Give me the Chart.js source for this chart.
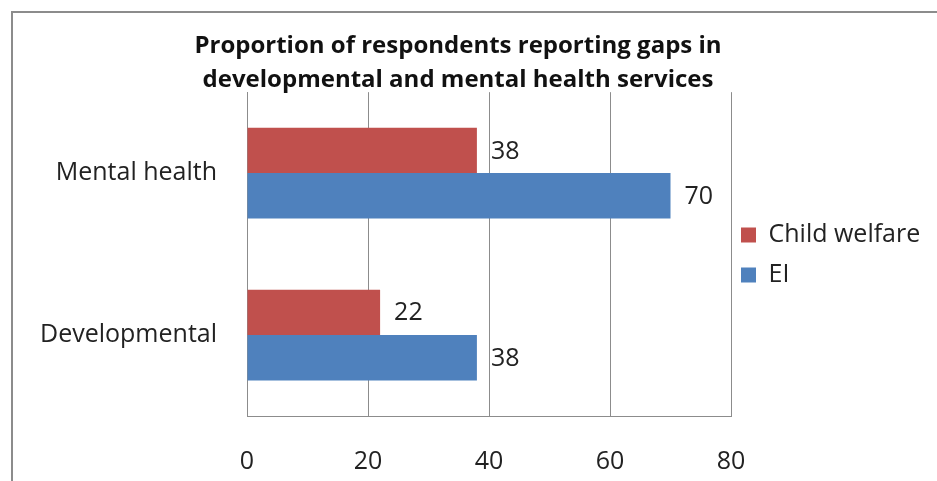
<!DOCTYPE html>
<html>
<head>
<meta charset="utf-8">
<script src="https://cdn.jsdelivr.net/npm/chart.js@4"></script>
<style>
  html, body { margin: 0; padding: 0; background: #fff; }
  #wrap { position: relative; width: 937px; height: 481px; overflow: hidden; }
  #frame {
    position: absolute; left: 11px; top: 11px; width: 1000px; height: 600px;
    border-left: 2px solid #8c8c8c; border-top: 2px solid #8c8c8c;
    pointer-events: none;
  }
</style>
</head>
<body>
<div id="wrap">
  <canvas id="gaps" width="937" height="481"></canvas>
  <div id="frame"></div>
</div>
<script>
const categories = ["Mental health", "Developmental"];
const childWelfare = [38, 22];
const earlyIntervention = [70, 38];
const xTicks = [0, 20, 40, 60, 80];

const FONT = "'Open Sans', sans-serif";
const LEGEND_WIDTH = 185;

// writes each bar's value just past its end
const valueLabels = {
  id: "valueLabels",
  afterDatasetsDraw(chart) {
    const ctx = chart.ctx;
    ctx.save();
    ctx.font = "25px " + FONT;
    ctx.fillStyle = "#222";
    ctx.textBaseline = "middle";
    ctx.textAlign = "left";
    chart.data.datasets.forEach((ds, i) => {
      chart.getDatasetMeta(i).data.forEach((bar, j) => {
        ctx.fillText(String(ds.data[j]), bar.x + 14, bar.y + 1);
      });
    });
    ctx.restore();
  },
};

// keeps the side legend at a fixed width so the plot edge stays put,
// then lets its text run out to the canvas edge
const fixedLegend = {
  id: "fixedLegend",
  beforeLayout(chart) {
    const lg = chart.legend;
    if (!lg || lg._fixedFit) return;
    const fit = lg.fit.bind(lg);
    lg.fit = function () {
      fit();
      this.width = LEGEND_WIDTH;
    };
    lg._fixedFit = true;
  },
  afterLayout(chart) {
    const lg = chart.legend;
    if (!lg) return;
    lg.left -= 5;
    lg.right = chart.width;
    lg.width = lg.right - lg.left;
  },
};

new Chart(document.getElementById("gaps"), {
  type: "bar",
  data: {
    labels: categories,
    datasets: [
      {
        label: "Child welfare",
        data: childWelfare,
        backgroundColor: "#C0504D",
        categoryPercentage: 0.56,
        barPercentage: 1,
      },
      {
        label: "EI",
        data: earlyIntervention,
        backgroundColor: "#4F81BD",
        categoryPercentage: 0.56,
        barPercentage: 1,
      },
    ],
  },
  options: {
    indexAxis: "y",
    responsive: false,
    animation: false,
    layout: { padding: { top: 29, right: 21, left: 0, bottom: 0 } },
    plugins: {
      title: {
        display: true,
        text: [
          "Proportion of respondents reporting gaps in",
          "developmental and mental health services",
        ],
        color: "#111",
        font: { family: FONT, size: 24, weight: "bold", lineHeight: 1.42 },
        padding: { top: 0, bottom: -5 },
      },
      legend: {
        position: "right",
        labels: {
          color: "#222",
          font: { family: FONT, size: 25 },
          boxWidth: 15,
          boxHeight: 15,
          padding: 15,
        },
      },
      tooltip: { enabled: false },
    },
    scales: {
      x: {
        min: 0,
        max: 80,
        afterBuildTicks(scale) {
          scale.ticks = xTicks.map((v) => ({ value: v }));
        },
        afterFit(scale) {
          scale.height = 65;
        },
        grid: { color: "#8c8c8c", drawTicks: false },
        border: { color: "#8c8c8c" },
        ticks: {
          color: "#222",
          padding: 31,
          font: { family: FONT, size: 25 },
        },
      },
      y: {
        afterFit(scale) {
          scale.width = 247;
        },
        grid: { display: false, drawTicks: false },
        border: { color: "#8c8c8c" },
        ticks: {
          color: "#222",
          padding: 30,
          font: { family: FONT, size: 25 },
        },
      },
    },
  },
  plugins: [valueLabels, fixedLegend],
});
</script>
</body>
</html>
